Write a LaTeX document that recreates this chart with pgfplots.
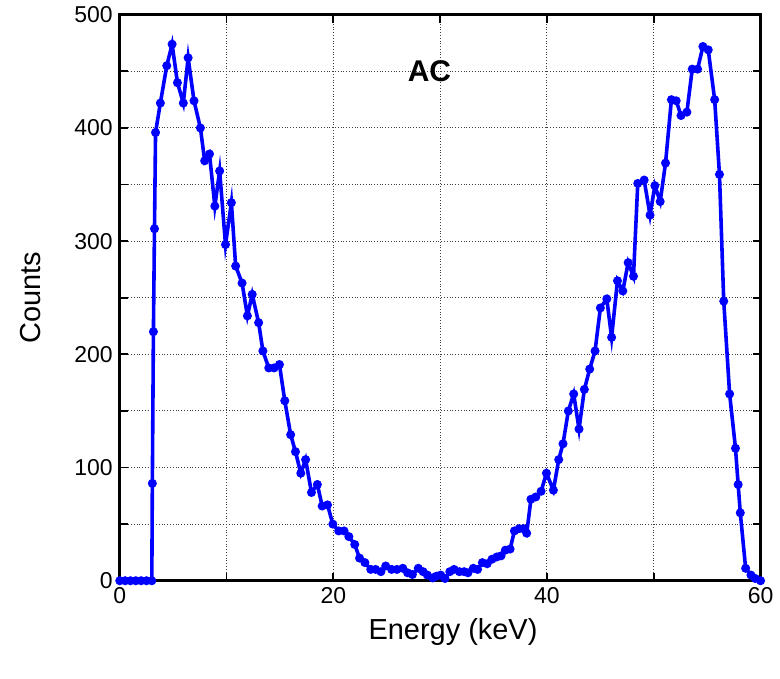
\documentclass[border=0pt]{standalone}
\usepackage{fontspec}
\setmainfont{Liberation Sans}
\usepackage{pgfplots}
\pgfplotsset{compat=1.18}

\begin{document}
\begin{tikzpicture}
\begin{axis}[
    at={(0,0)}, anchor=south west,
    width=321pt, height=283.5pt, scale only axis,
    xmin=0, xmax=60, ymin=0, ymax=500,
    xtick={0,20,40,60}, minor xtick={10,30,50},
    ytick={0,100,...,500}, minor ytick={50,150,...,450},
    grid=both,
    major grid style={densely dotted, black!75, line width=0.5pt},
    minor grid style={densely dotted, black!75, line width=0.5pt},
    axis line style={line width=1.3pt},
    tick style={black, line width=0.9pt},
    major tick length=4pt, minor tick length=4pt,
    tick label style={font=\fontsize{11.5}{13}\selectfont},
    /pgf/number format/assume math mode=true,
    xlabel={Energy (keV)}, ylabel={Counts},
    label style={font=\fontsize{14.5}{16}\selectfont},
    xlabel style={at={(axis description cs:0.52,-0.09)}, anchor=center},
    ylabel style={at={(axis description cs:-0.14,0.5)}, anchor=center, rotate=0},
]
\addplot[color={rgb,255:red,0;green,0;blue,255}, line width=1.8pt,
         mark=*, mark size=1.3pt] coordinates {
(0,0) (0.5,0) (1,0) (1.5,0) (2,0) (2.5,0) (3,0) (3.05,86) (3.15,220) (3.25,311)
(3.35,396) (3.8,422) (4.4,455) (4.9,474) (5.4,440) (5.95,422) (6.4,462) (6.95,424)
(7.55,400) (7.95,371) (8.4,377) (8.9,331) (9.35,362) (9.9,297) (10.45,334) (10.85,278)
(11.45,263) (11.95,234) (12.4,253) (13.0,228) (13.4,203) (13.95,188) (14.45,188)
(14.95,191) (15.45,159) (16.0,129) (16.45,114) (16.95,95) (17.4,107) (17.95,78)
(18.5,85) (18.95,66) (19.45,67) (19.95,50) (20.5,44) (21.0,44) (21.45,39) (22.0,32)
(22.45,20) (22.95,16) (23.5,10) (23.95,10) (24.45,8) (24.9,13) (25.45,10) (25.95,10)
(26.5,11) (26.95,7) (27.4,5.5) (27.95,11) (28.4,8) (28.8,5) (29.3,2.5) (29.65,4)
(30.05,5) (30.45,2) (30.9,8) (31.3,10) (31.8,8) (32.25,8) (32.6,7) (33.1,11) (33.5,10)
(33.95,16) (34.4,15) (34.85,19) (35.3,21) (35.7,22) (36.1,27) (36.55,28) (36.95,44)
(37.4,46) (37.8,46) (38.1,42) (38.5,72) (38.95,74) (39.45,79) (39.95,95) (40.6,80)
(41.1,107) (41.5,121) (42.0,150) (42.5,165) (43.0,134) (43.5,169) (44.0,187) (44.5,203)
(45.0,241) (45.6,249) (46.05,215) (46.6,265) (47.1,256) (47.6,281) (48.1,269)
(48.5,351) (49.1,354) (49.65,323) (50.1,349) (50.6,335) (51.1,369) (51.65,425)
(52.1,424) (52.55,411) (53.1,414) (53.6,452) (54.1,452) (54.6,472) (55.1,469)
(55.7,425) (56.15,359) (56.55,247) (57.1,165) (57.65,117) (57.9,85) (58.1,60)
(58.6,11) (59.1,5) (59.5,2) (60,0)
};
\node[font=\fontsize{15}{17}\selectfont\bfseries] at (axis cs:29,450) {AC};
\end{axis}
\path[use as bounding box] (-60pt,-49pt) rectangle (330pt,290pt);
\end{tikzpicture}
\end{document}
